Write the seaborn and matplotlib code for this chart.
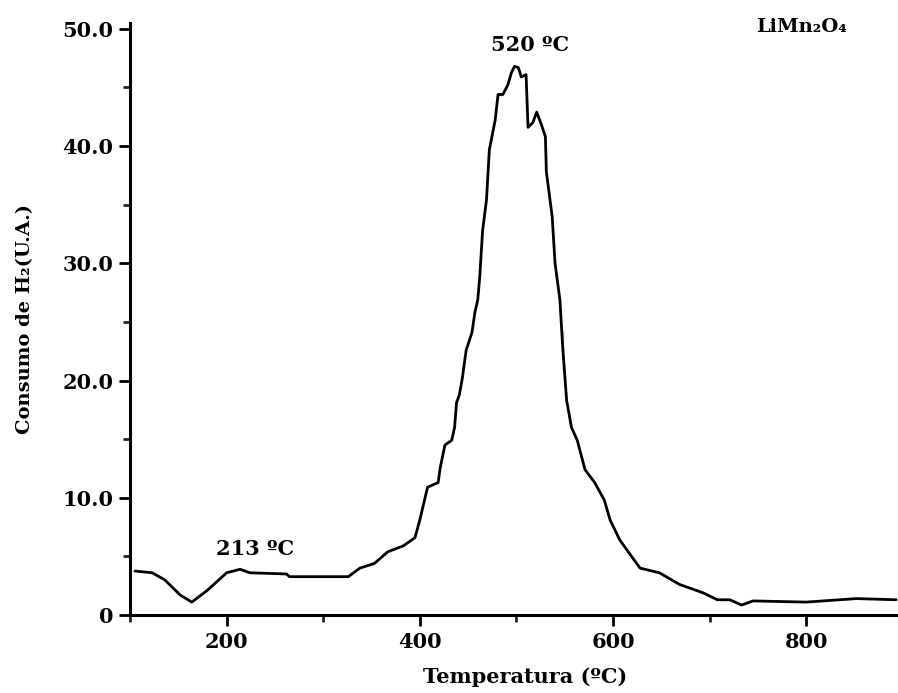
import matplotlib
matplotlib.use("Agg")
import matplotlib.pyplot as plt
from matplotlib.ticker import MultipleLocator, FixedLocator
import seaborn as sns
import pandas as pd

# H2-TPR profile of LiMn2O4
temperatura = [105, 123, 136, 152, 164, 180, 200, 214, 224, 262, 265, 326, 338,
               353, 367, 383, 395, 400, 408, 419, 421, 426, 433, 436, 438, 441,
               444, 448, 454, 457, 460, 462, 465, 469, 472, 478, 481, 486, 491,
               495, 498, 502, 505, 510, 512, 517, 521, 526, 530, 531, 537, 540,
               545, 548, 548, 552, 557, 563, 571, 581, 591, 597, 607, 620, 628,
               648, 669, 693, 708, 721, 733, 745, 800, 852, 893]
consumo = [3.75, 3.6, 3.0, 1.7, 1.1, 2.1, 3.6, 3.9, 3.6, 3.5, 3.27, 3.27, 4.0,
           4.4, 5.4, 5.9, 6.6, 8.1, 10.9, 11.3, 12.5, 14.5, 14.9, 16.0, 18.1, 18.8,
           20.2, 22.6, 24.1, 25.8, 26.9, 28.8, 32.8, 35.4, 39.7, 42.2, 44.4, 44.4, 45.2,
           46.3, 46.8, 46.7, 45.9, 46.1, 41.6, 42.0, 42.9, 41.8, 40.8, 37.8, 34.0, 30.0,
           26.9, 24.3, 21.2, 18.3, 16.0, 14.9, 12.4, 11.3, 9.8, 8.1, 6.4, 4.9, 4.0,
           3.6, 2.6, 1.9, 1.3, 1.3, 0.85, 1.2, 1.1, 1.4, 1.3]

y_ticks = [0, 10, 20, 30, 40, 50]
y_labels = ["0", "10.0", "20.0", "30.0", "40.0", "50.0"]
x_ticks = [200, 400, 600, 800]

df = pd.DataFrame({"Temperatura": temperatura, "Consumo": consumo})

sns.set_style("ticks")
plt.rcParams["font.family"] = ["DejaVu Serif"]
plt.rcParams["font.weight"] = "bold"
plt.rcParams["text.color"] = "black"
plt.rcParams["axes.labelcolor"] = "black"

fig = plt.figure(figsize=(8.98, 6.93), dpi=100)
ax = fig.add_axes([130 / 898, 78 / 693, 768 / 898, 592 / 693])

sns.lineplot(data=df, x="Temperatura", y="Consumo", color="black", linewidth=2.0, ax=ax)

ax.set_xlim(100, 895)
ax.set_ylim(0, 50.5)

ax.set_xticks(x_ticks)
ax.xaxis.set_minor_locator(FixedLocator([100, 300, 500, 700]))
ax.set_yticks(y_ticks)
ax.set_yticklabels(y_labels)
ax.yaxis.set_minor_locator(MultipleLocator(5))

ax.tick_params(axis="both", which="major", length=8, width=2, direction="out",
               labelsize=15, pad=4, colors="black")
ax.tick_params(axis="both", which="minor", length=5, width=2, direction="out")
for lab in ax.get_xticklabels() + ax.get_yticklabels():
    lab.set_fontweight("bold")

sns.despine(ax=ax)
for side in ["left", "bottom"]:
    ax.spines[side].set_linewidth(2.2)
    ax.spines[side].set_color("black")

ax.set_xlabel("Temperatura (ºC)", fontsize=15, fontweight="bold")
ax.xaxis.set_label_coords(0.514, -0.088)
ax.set_ylabel("Consumo de H₂(U.A.)", fontsize=14, fontweight="bold", labelpad=20)

ax.text(514, 48.6, "520 ºC", fontsize=15, fontweight="bold", ha="center", va="center")
ax.text(229, 5.6, "213 ºC", fontsize=15, fontweight="bold", ha="center", va="center")
ax.text(795, 50.2, "LiMn₂O₄", fontsize=14, fontweight="bold", ha="center", va="center")

fig.savefig("out.png", dpi=100)
